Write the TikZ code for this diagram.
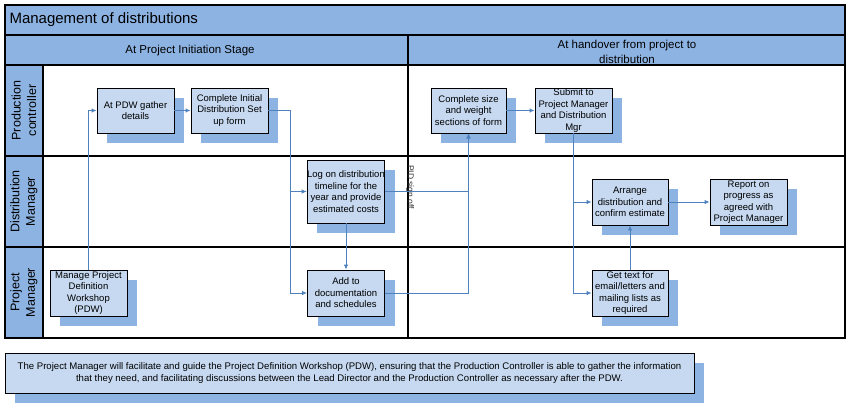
\documentclass[tikz,border=0pt]{standalone}
\usepackage{fontspec}
\setmainfont{Liberation Sans}
\usetikzlibrary{arrows.meta,shadows}
\definecolor{bandblue}{RGB}{141,179,226}
\definecolor{boxblue}{RGB}{198,217,241}
\definecolor{flowblue}{RGB}{79,129,189}

\begin{document}
\begin{tikzpicture}[x=1pt,y=-1pt,
        frame/.style={draw=black,line width=1.1pt},
        band/.style={frame,fill=bandblue},
        task/.style={draw=black,line width=0.9pt,fill=boxblue,align=center,inner sep=0pt,
            minimum width=77pt,minimum height=45pt,font=\fontsize{9.5}{11.5}\selectfont,
            drop shadow={shadow xshift=10pt,shadow yshift=-10pt,fill=bandblue,opacity=1}},
        lanelabel/.style={rotate=90,align=center,font=\fontsize{12.5}{15.5}\selectfont},
        stage/.style={align=center,font=\fontsize{11.5}{15}\selectfont},
        flow/.style={draw=flowblue,line width=0.9pt,-{Latex[length=5pt,width=4.5pt]}}]
        \useasboundingbox (0,0) rectangle (854,410);
        \draw[band] (5,5) rectangle (845,35);
        \draw[band] (5,35) rectangle (845,65);
        \draw[band] (5,65) rectangle (43,338);
        \draw[frame] (43,65) rectangle (845,338);
        \draw[frame] (5,156) -- (845,156) (5,247) -- (845,247) (408,35) -- (408,338);
        \node[anchor=west,font=\fontsize{15}{18}\selectfont] (title) at (6,20) {Management of distributions};
        \node[stage] (initiation) at (190,51) {At Project Initiation Stage};
        \node[stage] (handover) at (627,51.5) {At handover from project to\\distribution};
        \node[lanelabel] (laneprod) at (24,110.5) {Production\\controller};
        \node[lanelabel] (lanedist) at (24,201.5) {Distribution\\Manager};
        \node[lanelabel] (laneproj) at (24,292.5) {Project\\Manager};
        \node[rotate=-90,font=\fontsize{8.5}{10}\selectfont,text=black!80] (signoff) at (410,187) {PID sign off};
        \node[task] (gather) at (135.5,110.5) {At PDW gather\\details};
        \node[task] (initial) at (229.5,110.5) {Complete Initial\\Distribution Set\\up form};
        \node[task,minimum width=75pt] (size) at (468.5,110.5) {Complete size\\and weight\\sections of form};
        \node[task] (submit) at (573.5,110.5) {Submit to\\Project Manager\\and Distribution\\Mgr};
        \node[task,minimum height=63pt] (logon) at (346,191.5) {Log on distribution\\timeline for the\\year and provide\\estimated costs};
        \node[task,minimum height=46pt] (manage) at (88.5,293) {Manage Project\\Definition\\Workshop\\(PDW)};
        \node[task,minimum height=46pt] (addto) at (346,293) {Add to\\documentation\\and schedules};
        \node[task,minimum width=76pt,minimum height=46pt] (arrange) at (630,202) {Arrange\\distribution and\\confirm estimate};
        \node[task,minimum height=46pt] (report) at (748.5,202) {Report on\\progress as\\agreed with\\Project Manager};
        \node[task,minimum width=76pt,minimum height=46pt] (gettext) at (630,293) {Get text for\\email/letters and\\mailing lists as\\required};
        \node[task,minimum width=689pt,minimum height=40pt,font=\fontsize{9.6}{12.5}\selectfont] (note) at (349.5,373)
            {The Project Manager will facilitate and guide the Project Definition Workshop (PDW), ensuring that the Production Controller is able to gather the information\\
             that they need, and facilitating discussions between the Lead Director and the Production Controller as necessary after the PDW.};
        \coordinate (split) at (290,110.5);
        \draw[flow] (manage.north) |- (gather.west);
        \draw[flow] (gather) -- (initial);
        \draw[flow] (initial.east) -- (split) |- (logon.west);
        \draw[flow] (split) |- (addto.west);
        \draw[flow] (logon) -- (addto);
        \draw[flow] (logon.east) -| (size.south);
        \draw[flow] (addto.east) -| (size.south);
        \draw[flow] (size) -- (submit);
        \draw[flow] (submit.south) |- (arrange.west);
        \draw[flow] (submit.south) |- (gettext.west);
        \draw[flow] (gettext) -- (arrange);
        \draw[flow] (arrange) -- (report);
\end{tikzpicture}
\end{document}
